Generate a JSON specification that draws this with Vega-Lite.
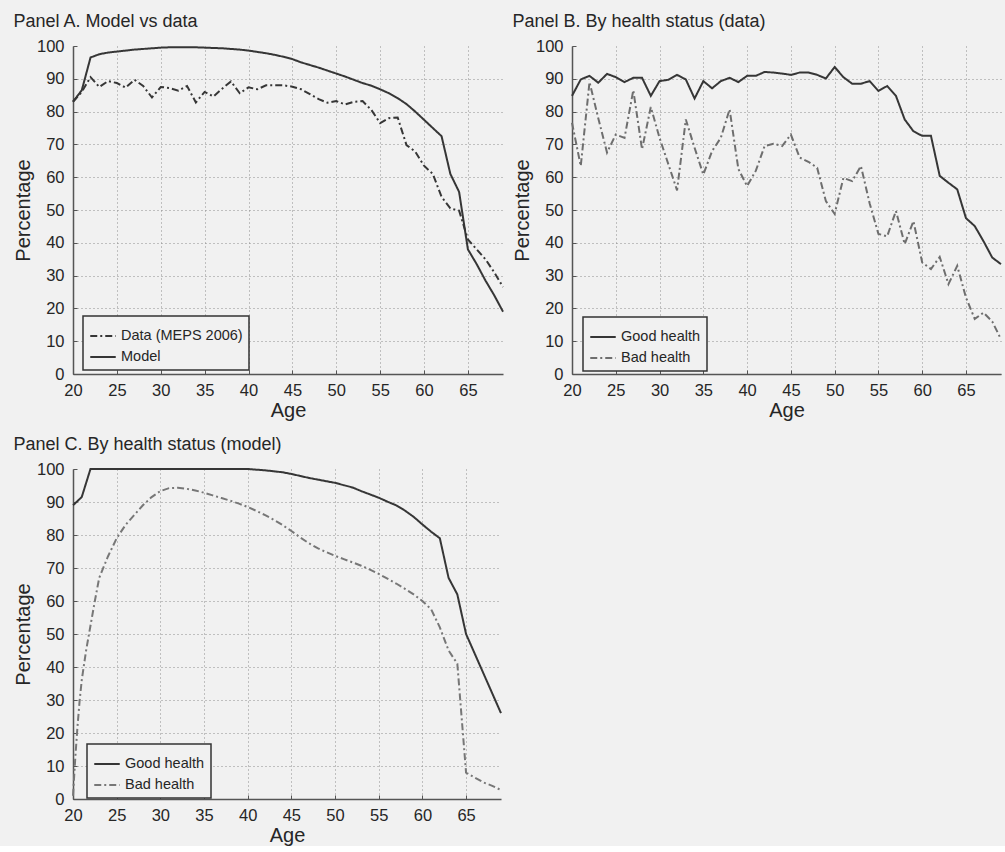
{
  "$schema": "https://vega.github.io/schema/vega-lite/v6.json",
  "background": "#f1f1f1",
  "padding": {"left": 13, "top": 13, "right": 0, "bottom": 0},
  "datasets": {
    "A": [
      {"age":20,"pct":83,"s":"Model"},{"age":21,"pct":86.5,"s":"Model"},{"age":22,"pct":96.5,"s":"Model"},{"age":23,"pct":97.5,"s":"Model"},{"age":24,"pct":98,"s":"Model"},{"age":25,"pct":98.3,"s":"Model"},{"age":26,"pct":98.6,"s":"Model"},{"age":27,"pct":98.9,"s":"Model"},{"age":28,"pct":99.1,"s":"Model"},{"age":29,"pct":99.3,"s":"Model"},
      {"age":30,"pct":99.5,"s":"Model"},{"age":31,"pct":99.6,"s":"Model"},{"age":32,"pct":99.6,"s":"Model"},{"age":33,"pct":99.6,"s":"Model"},{"age":34,"pct":99.6,"s":"Model"},{"age":35,"pct":99.5,"s":"Model"},{"age":36,"pct":99.4,"s":"Model"},{"age":37,"pct":99.3,"s":"Model"},{"age":38,"pct":99.1,"s":"Model"},{"age":39,"pct":98.9,"s":"Model"},
      {"age":40,"pct":98.6,"s":"Model"},{"age":41,"pct":98.2,"s":"Model"},{"age":42,"pct":97.8,"s":"Model"},{"age":43,"pct":97.3,"s":"Model"},{"age":44,"pct":96.7,"s":"Model"},{"age":45,"pct":96,"s":"Model"},{"age":46,"pct":95,"s":"Model"},{"age":47,"pct":94.2,"s":"Model"},{"age":48,"pct":93.4,"s":"Model"},{"age":49,"pct":92.5,"s":"Model"},
      {"age":50,"pct":91.6,"s":"Model"},{"age":51,"pct":90.7,"s":"Model"},{"age":52,"pct":89.7,"s":"Model"},{"age":53,"pct":88.7,"s":"Model"},{"age":54,"pct":87.9,"s":"Model"},{"age":55,"pct":86.8,"s":"Model"},{"age":56,"pct":85.6,"s":"Model"},{"age":57,"pct":84.1,"s":"Model"},{"age":58,"pct":82.3,"s":"Model"},{"age":59,"pct":80,"s":"Model"},
      {"age":60,"pct":77.5,"s":"Model"},{"age":61,"pct":75,"s":"Model"},{"age":62,"pct":72.5,"s":"Model"},{"age":63,"pct":61,"s":"Model"},{"age":64,"pct":55.5,"s":"Model"},{"age":65,"pct":38,"s":"Model"},{"age":66,"pct":33.5,"s":"Model"},{"age":67,"pct":28.5,"s":"Model"},{"age":68,"pct":24,"s":"Model"},{"age":69,"pct":19,"s":"Model"},
      {"age":20,"pct":83,"s":"Data (MEPS 2006)"},{"age":21,"pct":86,"s":"Data (MEPS 2006)"},{"age":22,"pct":90.5,"s":"Data (MEPS 2006)"},{"age":23,"pct":87.5,"s":"Data (MEPS 2006)"},{"age":24,"pct":89.3,"s":"Data (MEPS 2006)"},{"age":25,"pct":88.7,"s":"Data (MEPS 2006)"},{"age":26,"pct":87.3,"s":"Data (MEPS 2006)"},{"age":27,"pct":89.7,"s":"Data (MEPS 2006)"},{"age":28,"pct":87.8,"s":"Data (MEPS 2006)"},{"age":29,"pct":84.3,"s":"Data (MEPS 2006)"},
      {"age":30,"pct":87.5,"s":"Data (MEPS 2006)"},{"age":31,"pct":87.2,"s":"Data (MEPS 2006)"},{"age":32,"pct":86.4,"s":"Data (MEPS 2006)"},{"age":33,"pct":87.8,"s":"Data (MEPS 2006)"},{"age":34,"pct":82.8,"s":"Data (MEPS 2006)"},{"age":35,"pct":86,"s":"Data (MEPS 2006)"},{"age":36,"pct":84.6,"s":"Data (MEPS 2006)"},{"age":37,"pct":87,"s":"Data (MEPS 2006)"},{"age":38,"pct":89.2,"s":"Data (MEPS 2006)"},{"age":39,"pct":85.6,"s":"Data (MEPS 2006)"},
      {"age":40,"pct":87.4,"s":"Data (MEPS 2006)"},{"age":41,"pct":86.8,"s":"Data (MEPS 2006)"},{"age":42,"pct":88,"s":"Data (MEPS 2006)"},{"age":43,"pct":88,"s":"Data (MEPS 2006)"},{"age":44,"pct":88,"s":"Data (MEPS 2006)"},{"age":45,"pct":87.6,"s":"Data (MEPS 2006)"},{"age":46,"pct":86.8,"s":"Data (MEPS 2006)"},{"age":47,"pct":85.3,"s":"Data (MEPS 2006)"},{"age":48,"pct":83.8,"s":"Data (MEPS 2006)"},{"age":49,"pct":82.7,"s":"Data (MEPS 2006)"},
      {"age":50,"pct":83.2,"s":"Data (MEPS 2006)"},{"age":51,"pct":82.2,"s":"Data (MEPS 2006)"},{"age":52,"pct":83,"s":"Data (MEPS 2006)"},{"age":53,"pct":83.2,"s":"Data (MEPS 2006)"},{"age":54,"pct":80.5,"s":"Data (MEPS 2006)"},{"age":55,"pct":76.5,"s":"Data (MEPS 2006)"},{"age":56,"pct":78,"s":"Data (MEPS 2006)"},{"age":57,"pct":78.2,"s":"Data (MEPS 2006)"},{"age":58,"pct":69.8,"s":"Data (MEPS 2006)"},{"age":59,"pct":67.8,"s":"Data (MEPS 2006)"},
      {"age":60,"pct":63.5,"s":"Data (MEPS 2006)"},{"age":61,"pct":61,"s":"Data (MEPS 2006)"},{"age":62,"pct":54,"s":"Data (MEPS 2006)"},{"age":63,"pct":50.5,"s":"Data (MEPS 2006)"},{"age":64,"pct":49.8,"s":"Data (MEPS 2006)"},{"age":65,"pct":41,"s":"Data (MEPS 2006)"},{"age":66,"pct":38,"s":"Data (MEPS 2006)"},{"age":67,"pct":35,"s":"Data (MEPS 2006)"},{"age":68,"pct":31,"s":"Data (MEPS 2006)"},{"age":69,"pct":26.5,"s":"Data (MEPS 2006)"}
    ],
    "B": [
      {"age":20,"pct":84.8,"s":"Good health"},{"age":21,"pct":89.8,"s":"Good health"},{"age":22,"pct":90.9,"s":"Good health"},{"age":23,"pct":88.8,"s":"Good health"},{"age":24,"pct":91.5,"s":"Good health"},{"age":25,"pct":90.5,"s":"Good health"},{"age":26,"pct":89,"s":"Good health"},{"age":27,"pct":90.3,"s":"Good health"},{"age":28,"pct":90.3,"s":"Good health"},{"age":29,"pct":84.8,"s":"Good health"},
      {"age":30,"pct":89.3,"s":"Good health"},{"age":31,"pct":89.7,"s":"Good health"},{"age":32,"pct":91.2,"s":"Good health"},{"age":33,"pct":89.8,"s":"Good health"},{"age":34,"pct":84,"s":"Good health"},{"age":35,"pct":89.3,"s":"Good health"},{"age":36,"pct":87.1,"s":"Good health"},{"age":37,"pct":89.3,"s":"Good health"},{"age":38,"pct":90.3,"s":"Good health"},{"age":39,"pct":89,"s":"Good health"},
      {"age":40,"pct":90.9,"s":"Good health"},{"age":41,"pct":90.9,"s":"Good health"},{"age":42,"pct":92.1,"s":"Good health"},{"age":43,"pct":91.9,"s":"Good health"},{"age":44,"pct":91.6,"s":"Good health"},{"age":45,"pct":91.2,"s":"Good health"},{"age":46,"pct":91.9,"s":"Good health"},{"age":47,"pct":91.9,"s":"Good health"},{"age":48,"pct":91.2,"s":"Good health"},{"age":49,"pct":90.1,"s":"Good health"},
      {"age":50,"pct":93.6,"s":"Good health"},{"age":51,"pct":90.5,"s":"Good health"},{"age":52,"pct":88.5,"s":"Good health"},{"age":53,"pct":88.5,"s":"Good health"},{"age":54,"pct":89.3,"s":"Good health"},{"age":55,"pct":86.3,"s":"Good health"},{"age":56,"pct":87.8,"s":"Good health"},{"age":57,"pct":84.8,"s":"Good health"},{"age":58,"pct":77.6,"s":"Good health"},{"age":59,"pct":74,"s":"Good health"},
      {"age":60,"pct":72.6,"s":"Good health"},{"age":61,"pct":72.6,"s":"Good health"},{"age":62,"pct":60.4,"s":"Good health"},{"age":63,"pct":58.3,"s":"Good health"},{"age":64,"pct":56.3,"s":"Good health"},{"age":65,"pct":47.5,"s":"Good health"},{"age":66,"pct":45.1,"s":"Good health"},{"age":67,"pct":40.5,"s":"Good health"},{"age":68,"pct":35.5,"s":"Good health"},{"age":69,"pct":33.5,"s":"Good health"},
      {"age":20,"pct":76.6,"s":"Bad health"},{"age":21,"pct":63.4,"s":"Bad health"},{"age":22,"pct":89,"s":"Bad health"},{"age":23,"pct":78,"s":"Bad health"},{"age":24,"pct":67.5,"s":"Bad health"},{"age":25,"pct":73,"s":"Bad health"},{"age":26,"pct":72,"s":"Bad health"},{"age":27,"pct":86.5,"s":"Bad health"},{"age":28,"pct":68.5,"s":"Bad health"},{"age":29,"pct":81.4,"s":"Bad health"},
      {"age":30,"pct":72,"s":"Bad health"},{"age":31,"pct":64,"s":"Bad health"},{"age":32,"pct":56,"s":"Bad health"},{"age":33,"pct":77.6,"s":"Bad health"},{"age":34,"pct":69,"s":"Bad health"},{"age":35,"pct":60.8,"s":"Bad health"},{"age":36,"pct":68,"s":"Bad health"},{"age":37,"pct":72,"s":"Bad health"},{"age":38,"pct":80.7,"s":"Bad health"},{"age":39,"pct":62.5,"s":"Bad health"},
      {"age":40,"pct":57.3,"s":"Bad health"},{"age":41,"pct":62,"s":"Bad health"},{"age":42,"pct":69.5,"s":"Bad health"},{"age":43,"pct":70.2,"s":"Bad health"},{"age":44,"pct":69.5,"s":"Bad health"},{"age":45,"pct":73,"s":"Bad health"},{"age":46,"pct":66,"s":"Bad health"},{"age":47,"pct":64.7,"s":"Bad health"},{"age":48,"pct":62.9,"s":"Bad health"},{"age":49,"pct":52.7,"s":"Bad health"},
      {"age":50,"pct":48.8,"s":"Bad health"},{"age":51,"pct":59.8,"s":"Bad health"},{"age":52,"pct":58.8,"s":"Bad health"},{"age":53,"pct":63.4,"s":"Bad health"},{"age":54,"pct":52,"s":"Bad health"},{"age":55,"pct":42.7,"s":"Bad health"},{"age":56,"pct":42,"s":"Bad health"},{"age":57,"pct":49.7,"s":"Bad health"},{"age":58,"pct":39.6,"s":"Bad health"},{"age":59,"pct":46.6,"s":"Bad health"},
      {"age":60,"pct":34,"s":"Bad health"},{"age":61,"pct":32,"s":"Bad health"},{"age":62,"pct":35.7,"s":"Bad health"},{"age":63,"pct":27.4,"s":"Bad health"},{"age":64,"pct":33,"s":"Bad health"},{"age":65,"pct":23.3,"s":"Bad health"},{"age":66,"pct":16.8,"s":"Bad health"},{"age":67,"pct":18.7,"s":"Bad health"},{"age":68,"pct":16,"s":"Bad health"},{"age":69,"pct":10.6,"s":"Bad health"}
    ],
    "C": [
      {"age":20,"pct":89,"s":"Good health"},{"age":21,"pct":91.5,"s":"Good health"},{"age":22,"pct":100,"s":"Good health"},{"age":23,"pct":100,"s":"Good health"},{"age":24,"pct":100,"s":"Good health"},{"age":25,"pct":100,"s":"Good health"},{"age":26,"pct":100,"s":"Good health"},{"age":27,"pct":100,"s":"Good health"},{"age":28,"pct":100,"s":"Good health"},{"age":29,"pct":100,"s":"Good health"},
      {"age":30,"pct":100,"s":"Good health"},{"age":31,"pct":100,"s":"Good health"},{"age":32,"pct":100,"s":"Good health"},{"age":33,"pct":100,"s":"Good health"},{"age":34,"pct":100,"s":"Good health"},{"age":35,"pct":100,"s":"Good health"},{"age":36,"pct":100,"s":"Good health"},{"age":37,"pct":100,"s":"Good health"},{"age":38,"pct":100,"s":"Good health"},{"age":39,"pct":100,"s":"Good health"},
      {"age":40,"pct":100,"s":"Good health"},{"age":41,"pct":99.8,"s":"Good health"},{"age":42,"pct":99.6,"s":"Good health"},{"age":43,"pct":99.3,"s":"Good health"},{"age":44,"pct":99,"s":"Good health"},{"age":45,"pct":98.5,"s":"Good health"},{"age":46,"pct":97.9,"s":"Good health"},{"age":47,"pct":97.3,"s":"Good health"},{"age":48,"pct":96.8,"s":"Good health"},{"age":49,"pct":96.3,"s":"Good health"},
      {"age":50,"pct":95.8,"s":"Good health"},{"age":51,"pct":95.1,"s":"Good health"},{"age":52,"pct":94.4,"s":"Good health"},{"age":53,"pct":93.3,"s":"Good health"},{"age":54,"pct":92.3,"s":"Good health"},{"age":55,"pct":91.3,"s":"Good health"},{"age":56,"pct":90.1,"s":"Good health"},{"age":57,"pct":89,"s":"Good health"},{"age":58,"pct":87.4,"s":"Good health"},{"age":59,"pct":85.5,"s":"Good health"},
      {"age":60,"pct":83.2,"s":"Good health"},{"age":61,"pct":81,"s":"Good health"},{"age":62,"pct":79,"s":"Good health"},{"age":63,"pct":67,"s":"Good health"},{"age":64,"pct":62,"s":"Good health"},{"age":65,"pct":50,"s":"Good health"},{"age":66,"pct":44,"s":"Good health"},{"age":67,"pct":38,"s":"Good health"},{"age":68,"pct":32,"s":"Good health"},{"age":69,"pct":26,"s":"Good health"},
      {"age":20,"pct":1,"s":"Bad health"},{"age":20.25,"pct":12,"s":"Bad health"},{"age":20.5,"pct":21.5,"s":"Bad health"},{"age":20.75,"pct":29.5,"s":"Bad health"},{"age":21,"pct":36,"s":"Bad health"},{"age":21.5,"pct":45,"s":"Bad health"},{"age":22,"pct":52.5,"s":"Bad health"},{"age":22.5,"pct":60,"s":"Bad health"},{"age":23,"pct":67,"s":"Bad health"},{"age":24,"pct":73.5,"s":"Bad health"},
      {"age":25,"pct":79,"s":"Bad health"},{"age":26,"pct":83,"s":"Bad health"},{"age":27,"pct":86,"s":"Bad health"},{"age":28,"pct":89,"s":"Bad health"},{"age":29,"pct":91.5,"s":"Bad health"},{"age":30,"pct":93.3,"s":"Bad health"},{"age":31,"pct":94.2,"s":"Bad health"},{"age":32,"pct":94.3,"s":"Bad health"},{"age":33,"pct":94,"s":"Bad health"},{"age":34,"pct":93.5,"s":"Bad health"},
      {"age":35,"pct":92.8,"s":"Bad health"},{"age":36,"pct":92,"s":"Bad health"},{"age":37,"pct":91.2,"s":"Bad health"},{"age":38,"pct":90.4,"s":"Bad health"},{"age":39,"pct":89.5,"s":"Bad health"},{"age":40,"pct":88.5,"s":"Bad health"},{"age":41,"pct":87.3,"s":"Bad health"},{"age":42,"pct":86,"s":"Bad health"},{"age":43,"pct":84.6,"s":"Bad health"},{"age":44,"pct":83,"s":"Bad health"},
      {"age":45,"pct":81.2,"s":"Bad health"},{"age":46,"pct":79.3,"s":"Bad health"},{"age":47,"pct":77.5,"s":"Bad health"},{"age":48,"pct":76,"s":"Bad health"},{"age":49,"pct":74.8,"s":"Bad health"},{"age":50,"pct":73.7,"s":"Bad health"},{"age":51,"pct":72.7,"s":"Bad health"},{"age":52,"pct":71.7,"s":"Bad health"},{"age":53,"pct":70.7,"s":"Bad health"},{"age":54,"pct":69.5,"s":"Bad health"},
      {"age":55,"pct":68.2,"s":"Bad health"},{"age":56,"pct":66.8,"s":"Bad health"},{"age":57,"pct":65.3,"s":"Bad health"},{"age":58,"pct":63.7,"s":"Bad health"},{"age":59,"pct":62,"s":"Bad health"},{"age":60,"pct":60,"s":"Bad health"},{"age":61,"pct":57.5,"s":"Bad health"},{"age":62,"pct":52,"s":"Bad health"},{"age":63,"pct":45,"s":"Bad health"},{"age":64,"pct":41,"s":"Bad health"},
      {"age":65,"pct":8,"s":"Bad health"},{"age":66,"pct":6.5,"s":"Bad health"},{"age":67,"pct":5,"s":"Bad health"},{"age":68,"pct":4,"s":"Bad health"},{"age":69,"pct":2.7,"s":"Bad health"}
    ]
  },
  "vconcat": [
    {
      "hconcat": [
        {
          "width": 430, "height": 328,
          "title": "Panel A. Model vs data",
          "data": {"name": "A"},
          "mark": {"type": "line", "strokeWidth": 2},
          "encoding": {
            "x": {"field": "age", "type": "quantitative", "title": "Age", "scale": {"domain": [20, 69], "nice": false, "zero": false}, "axis": {"values": [20,25,30,35,40,45,50,55,60,65]}},
            "y": {"field": "pct", "type": "quantitative", "title": "Percentage", "scale": {"domain": [0, 100], "nice": false}, "axis": {"values": [0,10,20,30,40,50,60,70,80,90,100], "gridOpacity": {"condition": {"test": "datum.value >= 100", "value": 0}, "value": 1}}},
            "color": {"field": "s", "type": "nominal", "scale": {"domain": ["Data (MEPS 2006)", "Model"], "range": ["#363636", "#363636"]}, "legend": {"title": null, "orient": "none", "legendX": 10, "legendY": 270}},
            "strokeDash": {"field": "s", "type": "nominal", "scale": {"domain": ["Data (MEPS 2006)", "Model"], "range": [[7,3,2,3],[1,0]]}, "legend": {"title": null, "orient": "none", "legendX": 10, "legendY": 270}}
          }
        },
        {
          "width": 429, "height": 328,
          "title": "Panel B. By health status (data)",
          "data": {"name": "B"},
          "mark": {"type": "line", "strokeWidth": 2},
          "encoding": {
            "x": {"field": "age", "type": "quantitative", "title": "Age", "scale": {"domain": [20, 69], "nice": false, "zero": false}, "axis": {"values": [20,25,30,35,40,45,50,55,60,65]}},
            "y": {"field": "pct", "type": "quantitative", "title": "Percentage", "scale": {"domain": [0, 100], "nice": false}, "axis": {"values": [0,10,20,30,40,50,60,70,80,90,100], "gridOpacity": {"condition": {"test": "datum.value >= 100", "value": 0}, "value": 1}}},
            "color": {"field": "s", "type": "nominal", "scale": {"domain": ["Good health", "Bad health"], "range": ["#363636", "#6e6e6e"]}, "legend": {"title": null, "orient": "none", "legendX": 11, "legendY": 271}},
            "strokeDash": {"field": "s", "type": "nominal", "scale": {"domain": ["Good health", "Bad health"], "range": [[1,0],[7,3,2,3]]}, "legend": {"title": null, "orient": "none", "legendX": 11, "legendY": 271}}
          }
        }
      ],
      "spacing": 5,
      "resolve": {"scale": {"color": "independent", "strokeDash": "independent"}, "legend": {"color": "independent", "strokeDash": "independent"}}
    },
    {
      "width": 428, "height": 330,
      "title": "Panel C. By health status (model)",
      "data": {"name": "C"},
      "mark": {"type": "line", "strokeWidth": 2},
      "encoding": {
        "x": {"field": "age", "type": "quantitative", "title": "Age", "scale": {"domain": [20, 69], "nice": false, "zero": false}, "axis": {"values": [20,25,30,35,40,45,50,55,60,65]}},
        "y": {"field": "pct", "type": "quantitative", "title": "Percentage", "scale": {"domain": [0, 100], "nice": false}, "axis": {"values": [0,10,20,30,40,50,60,70,80,90,100], "gridOpacity": {"condition": {"test": "datum.value >= 100", "value": 0}, "value": 1}}},
        "color": {"field": "s", "type": "nominal", "scale": {"domain": ["Good health", "Bad health"], "range": ["#363636", "#777777"]}, "legend": {"title": null, "orient": "none", "legendX": 14, "legendY": 275}},
        "strokeDash": {"field": "s", "type": "nominal", "scale": {"domain": ["Good health", "Bad health"], "range": [[1,0],[7,3,2,3]]}, "legend": {"title": null, "orient": "none", "legendX": 14, "legendY": 275}}
      }
    }
  ],
  "spacing": 15,
  "resolve": {"scale": {"color": "independent", "strokeDash": "independent"}, "legend": {"color": "independent", "strokeDash": "independent"}},
  "config": {
    "font": "Liberation Sans",
    "view": {"stroke": null},
    "axis": {
      "labelFont": "Liberation Sans", "labelFontSize": 16.5, "labelColor": "#262626", "labelFlush": false,
      "titleFont": "Liberation Sans", "titleFontSize": 20, "titleFontWeight": "normal", "titleColor": "#262626",
      "domainColor": "#555555", "domainWidth": 1.5,
      "tickColor": "#555555", "tickSize": -4, "tickWidth": 1,
      "gridColor": "#8c8c8c", "gridDash": [1, 3], "gridWidth": 1
    },
    "axisX": {"labelPadding": 12, "titlePadding": 2},
    "axisY": {"labelPadding": 13, "titlePadding": 3},
    "title": {"font": "Liberation Sans", "fontSize": 18, "fontWeight": "normal", "anchor": "start", "frame": "bounds", "color": "#262626", "offset": 7},
    "legend": {
      "strokeColor": "#333333", "strokeWidth": 1.5, "fillColor": "#f1f1f1", "padding": 6,
      "labelFont": "Liberation Sans", "labelFontSize": 14.5, "labelColor": "#262626", "labelOffset": 4,
      "symbolType": "stroke", "symbolSize": 650, "symbolStrokeWidth": 1.8, "rowPadding": -8
    }
  }
}
